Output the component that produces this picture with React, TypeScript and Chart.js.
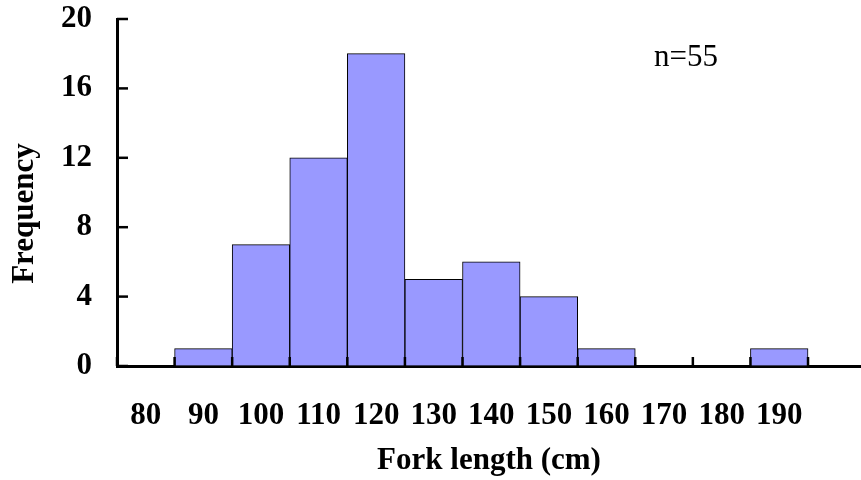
import React, { useEffect, useRef } from "react";
import { Chart, registerables } from "chart.js";

Chart.register(...registerables);

// ---- data ----
const binCenters = [80, 90, 100, 110, 120, 130, 140, 150, 160, 170, 180, 190];
const frequencies = [0, 1, 7, 12, 18, 5, 6, 4, 1, 0, 0, 1];
const xTickLabels = ["80", "90", "100", "110", "120", "130", "140", "150", "160", "170", "180", "190"];
const binEdges = [75, 85, 95, 105, 115, 125, 135, 145, 155, 165, 175, 185, 195];
const yTickValues = [0, 4, 8, 12, 16, 20];
const xTitle = "Fork length (cm)";
const yTitle = "Frequency";
const sampleNote = "n=55";

const FONT = "'Liberation Serif', 'Times New Roman', serif";
const FS = 31;

const overlayPlugin = {
  id: "overlay",
  afterDraw(chart: any) {
    const { ctx, chartArea, scales } = chart;
    const xs = scales.x;
    const ys = scales.y;
    ctx.save();
    ctx.strokeStyle = "#000";
    ctx.lineWidth = 2.5;
    // inward y ticks
    yTickValues.forEach((v) => {
      const py = ys.getPixelForValue(v);
      ctx.beginPath();
      ctx.moveTo(chartArea.left, py);
      ctx.lineTo(chartArea.left + 11, py);
      ctx.stroke();
    });
    // inward x ticks at bin edges
    binEdges.forEach((v) => {
      const px = xs.getPixelForValue(v);
      ctx.beginPath();
      ctx.moveTo(px, chartArea.bottom);
      ctx.lineTo(px, chartArea.bottom - 9);
      ctx.stroke();
    });
    // y title
    ctx.fillStyle = "#000";
    ctx.font = `bold ${FS}px ${FONT}`;
    ctx.textAlign = "center";
    ctx.textBaseline = "middle";
    ctx.save();
    ctx.translate(25, (chartArea.top + chartArea.bottom) / 2 + 21);
    ctx.rotate(-Math.PI / 2);
    ctx.fillText(yTitle, 0, 0);
    ctx.restore();
    // sample size note
    ctx.font = `${FS}px ${FONT}`;
    ctx.fillText(sampleNote, xs.getPixelForValue(173.8), ys.getPixelForValue(17.75));
    ctx.restore();
  },
};

export default function App() {
  const ref = useRef<HTMLCanvasElement | null>(null);

  useEffect(() => {
    if (!ref.current) return;
    Chart.defaults.font.family = FONT;
    const chart = new Chart(ref.current, {
      type: "bar",
      data: {
        datasets: [
          {
            data: binCenters.map((x, i) => ({ x, y: frequencies[i] })),
            backgroundColor: "#9999FF",
            borderColor: "#000",
            borderWidth: 1,
            barPercentage: 1,
            categoryPercentage: 1,
          },
        ],
      },
      options: {
        responsive: false,
        animation: false,
        layout: { padding: { top: 19, right: 0, left: 0, bottom: 0 } },
        plugins: { legend: { display: false }, tooltip: { enabled: false }, title: { display: false } },
        scales: {
          x: {
            type: "linear",
            min: 75,
            max: 204.2,
            offset: false,
            z: 1,
            afterBuildTicks: (scale: any) => {
              scale.ticks = binEdges.map((v) => ({ value: v }));
            },
            afterFit: (scale: any) => {
              scale.height = 114;
              scale.paddingLeft = 0;
              scale.paddingRight = 0;
            },
            grid: { display: true, offset: false, drawOnChartArea: false, drawTicks: false },
            border: { display: true, color: "#000", width: 3 },
            ticks: {
              autoSkip: false,
              maxRotation: 0,
              minRotation: 0,
              padding: 31,
              labelOffset: 28.8,
              color: "#000",
              font: { size: FS, weight: "bold", family: FONT },
              callback: (_v: any, i: number) => xTickLabels[i] ?? "",
            },
            title: {
              display: true,
              text: xTitle,
              color: "#000",
              font: { size: FS, weight: "bold", family: FONT },
              padding: 0,
            },
          },
          y: {
            min: 0,
            max: 20,
            z: 1,
            afterBuildTicks: (scale: any) => {
              scale.ticks = yTickValues.map((v) => ({ value: v }));
            },
            afterFit: (scale: any) => {
              scale.width = 117;
              scale.paddingTop = 0;
              scale.paddingBottom = 0;
            },
            grid: { display: true, drawOnChartArea: false, drawTicks: false },
            border: { display: true, color: "#000", width: 3 },
            ticks: {
              padding: 25,
              color: "#000",
              font: { size: FS, weight: "bold", family: FONT },
            },
          },
        },
      } as any,
      plugins: [overlayPlugin],
    });
    return () => chart.destroy();
  }, []);

  return (
    <div style={{ position: "absolute", left: 0, top: 0, width: 861, height: 480, background: "#fff" }}>
      <canvas ref={ref} width={861} height={480} style={{ display: "block" }} />
    </div>
  );
}
